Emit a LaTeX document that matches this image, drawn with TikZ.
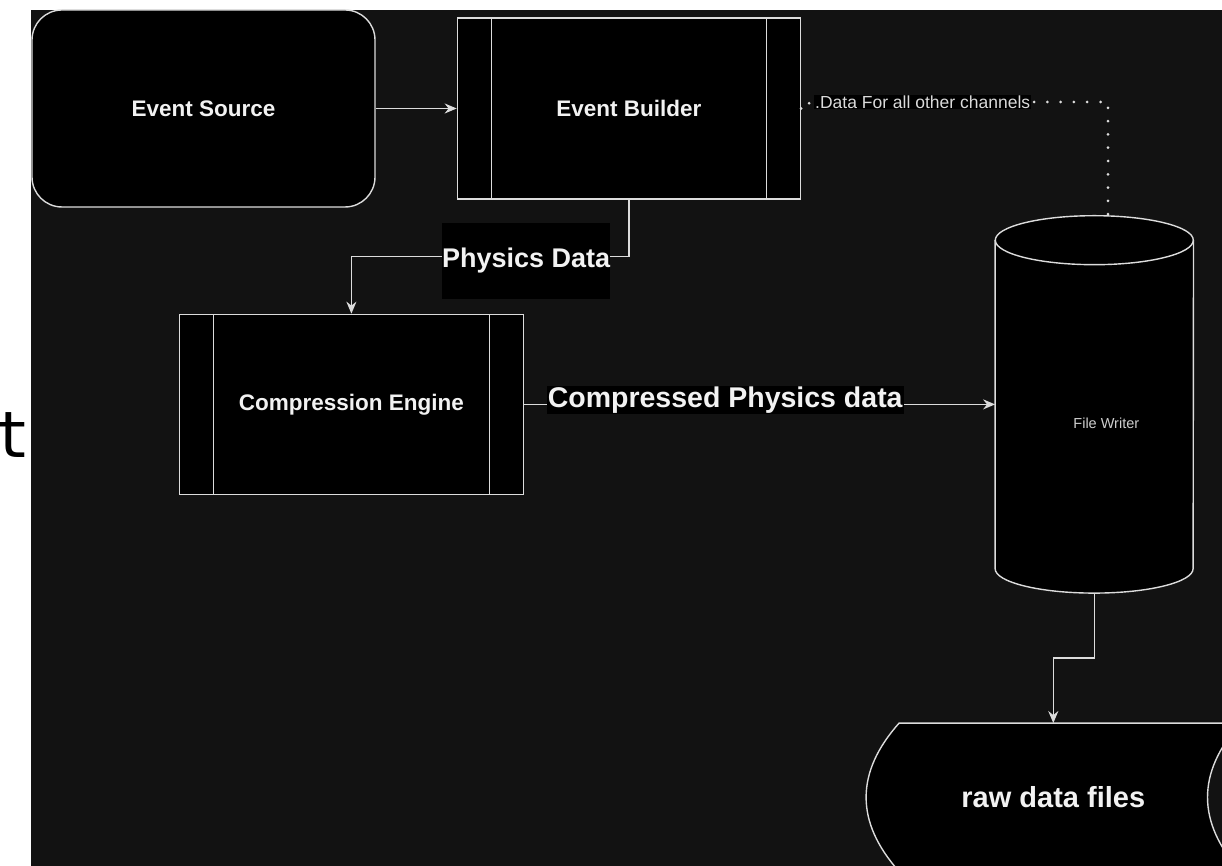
\documentclass[tikz,border=0pt]{standalone}
\usepackage{fontspec}
\setmainfont{Liberation Sans}
\newfontfamily\glyphfont{DejaVu Sans Mono}
\usetikzlibrary{positioning,arrows.meta,backgrounds}

\definecolor{canvas}{HTML}{121212}
\definecolor{edgegray}{HTML}{DCDCDC}
\definecolor{textwhite}{HTML}{F2F2F2}

\tikzset{
  block/.style={draw=edgegray, line width=1.4pt, fill=black, text=textwhite,
    font=\bfseries\fontsize{22.5}{27}\selectfont},
  roundblock/.style={block, rounded corners=30pt},
  procblock/.style={block, path picture={
      \draw[edgegray, line width=1.4pt]
        ([xshift=34pt]path picture bounding box.north west) -- ([xshift=34pt]path picture bounding box.south west)
        ([xshift=-34pt]path picture bounding box.north east) -- ([xshift=-34pt]path picture bounding box.south east);}},
  flow/.style={draw=edgegray, line width=1.6pt, -{Stealth[length=12pt,width=10pt]}},
  dotflow/.style={draw=edgegray, line width=3pt, line cap=round, dash pattern=on 0pt off 13.3pt},
  flowlabel/.style={fill=black, text=textwhite, inner sep=1pt},
  shapeline/.style={draw=edgegray, line width=1.4pt},
}

\begin{document}
\begin{tikzpicture}[x=1pt,y=1pt]
  \useasboundingbox (0,0) rectangle (1222,866);
  \begin{scope}[on background layer]
    \fill[white] (0,0) rectangle (1222,866);
    \fill[canvas] (31,0) rectangle (1222,856);
  \end{scope}

  \node[inner sep=0pt, anchor=base west, text=black, font=\glyphfont\fontsize{64}{64}\selectfont] (tglyph) at (-8,408) {t};

  \node[roundblock, minimum width=343pt, minimum height=197pt] (es) at (203.5,757.5) {Event Source};
  \node[procblock, minimum width=343pt, minimum height=181pt, right=81pt of es] (eb) {Event Builder};
  \node[procblock, minimum width=344pt, minimum height=180pt, below=114pt of eb, xshift=-277.5pt] (ce) {Compression Engine};
  \node[inner sep=0pt, minimum width=198pt, minimum height=377pt, right=471pt of ce] (fw) {};
  \node[inner sep=0pt, minimum width=374pt, minimum height=148pt, below=130pt of fw, xshift=-41pt,
        text=textwhite, font=\bfseries\fontsize{29}{34}\selectfont] (rdf) {raw data files};

  % cylinder and stored data outlines
  \begin{scope}[on background layer]
    \fill[black] ([yshift=-24.5pt]fw.north west) -- ([yshift=24.5pt]fw.south west)
      arc[start angle=180, end angle=360, x radius=99pt, y radius=24.5pt]
      -- ([yshift=-24.5pt]fw.north east)
      arc[start angle=0, end angle=180, x radius=99pt, y radius=24.5pt] -- cycle;
    \draw[shapeline] ([yshift=-24.5pt]fw.north west) -- ([yshift=24.5pt]fw.south west)
      arc[start angle=180, end angle=360, x radius=99pt, y radius=24.5pt]
      -- ([yshift=-24.5pt]fw.north east);
    \draw[shapeline] ([yshift=-24.5pt]fw.north) ellipse[x radius=99pt, y radius=24.5pt];

    \draw[shapeline, fill=black] ([xshift=33pt]rdf.north west) -- (rdf.north east)
      .. controls +(-44pt,-49.33pt) and +(-44pt,49.33pt) .. (rdf.south east)
      -- ([xshift=33pt]rdf.south west)
      .. controls +(-44pt,49.33pt) and +(-44pt,-49.33pt) .. ([xshift=33pt]rdf.north west) -- cycle;
  \end{scope}

  \node[text=textwhite!85!black, font=\fontsize{14.5}{17}\selectfont, xshift=12pt, yshift=-19pt] (fwtext) at (fw) {File Writer};

  \coordinate (dbend) at (1108,764);

  \draw[flow] (es) -- (eb);
  \draw[flow] (eb.south) -- ++(0,-57) -| node[flowlabel, pos=0.185, yshift=-4pt, inner xsep=0pt,
        minimum height=76pt, font=\bfseries\fontsize{27}{32}\selectfont] {Physics Data} (ce.north);
  \draw[flow] (ce) -- node[flowlabel, pos=0.427, yshift=4.5pt,
        font=\bfseries\fontsize{28.5}{33}\selectfont] {Compressed Physics data} (fw);
  \draw[dotflow] (eb.east) -- ++(8,0) |- node[flowlabel, pos=0.69, text=textwhite!90!black,
        font=\fontsize{17.5}{20}\selectfont] {.Data For all other channels} (dbend) -- (dbend |- fw.north);
  \draw[flow] (fw.south) -- ++(0,-65) -| (rdf.north);
\end{tikzpicture}
\end{document}
